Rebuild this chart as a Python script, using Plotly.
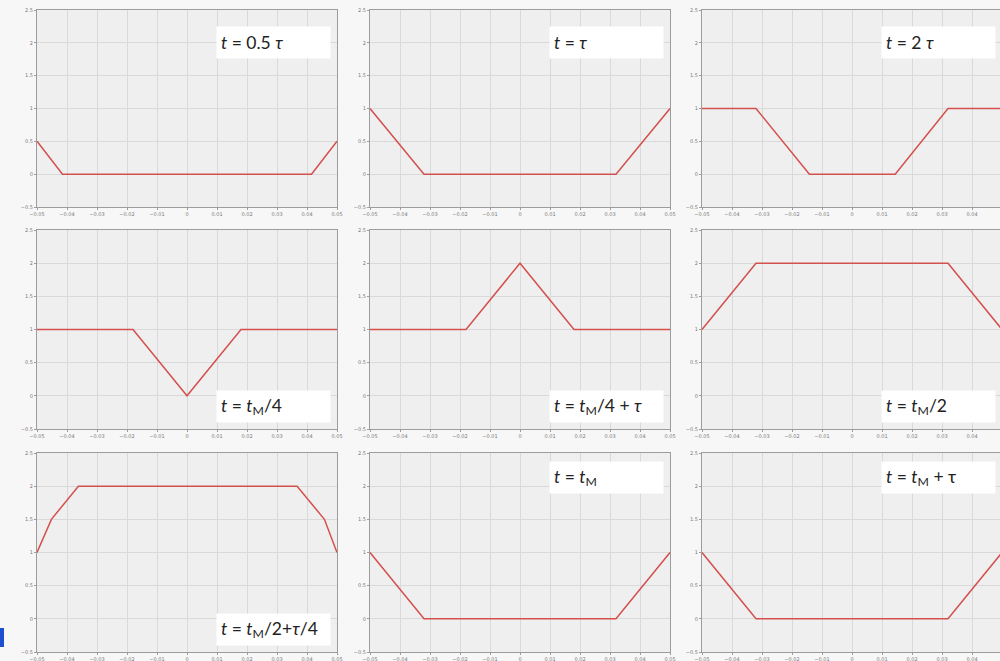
import plotly.graph_objects as go

# ---- data ----
x_p1 = [-0.05, -0.0415, 0.0415, 0.05]
y_p1 = [0.5, 0, 0, 0.5]
x_p2 = [-0.05, -0.032, 0.032, 0.05]
y_p2 = [1, 0, 0, 1]
x_p3 = [-0.05, -0.032, -0.0142, 0.0144, 0.032, 0.05]
y_p3 = [1, 1, 0, 0, 1, 1]
x_p4 = [-0.05, -0.018, 0.0, 0.018, 0.05]
y_p4 = [1, 1, 0, 1, 1]
x_p5 = [-0.05, -0.018, 0.0, 0.018, 0.05]
y_p5 = [1, 1, 2, 1, 1]
x_p6 = [-0.05, -0.032, 0.032, 0.05]
y_p6 = [1, 2, 2, 1]
x_p7 = [-0.05, -0.0452, -0.0362, 0.0367, 0.0458, 0.05]
y_p7 = [1, 1.5, 2, 2, 1.5, 1]
x_p8 = [-0.05, -0.032, 0.032, 0.05]
y_p8 = [1, 0, 0, 1]
x_p9 = [-0.05, -0.032, 0.032, 0.05]
y_p9 = [1, 0, 0, 1]

labels = [
    "<i>t</i> = 0.5 <i>τ</i>",
    "<i>t</i> = <i>τ</i>",
    "<i>t</i> = 2 <i>τ</i>",
    "<i>t</i> = <i>t</i><sub>M</sub>/4",
    "<i>t</i> = <i>t</i><sub>M</sub>/4 + <i>τ</i>",
    "<i>t</i> = <i>t</i><sub>M</sub>/2",
    "<i>t</i> = <i>t</i><sub>M</sub>/2+<i>τ</i>/4",
    "<i>t</i> = <i>t</i><sub>M</sub>",
    "<i>t</i> = <i>t</i><sub>M</sub> + τ",
]
# label box placement: top or bottom of panel
label_pos = ["top", "top", "top", "bottom", "bottom", "bottom", "bottom", "top", "top"]

x_ticks = [-0.05, -0.04, -0.03, -0.02, -0.01, 0, 0.01, 0.02, 0.03, 0.04, 0.05]
x_ticklabels = ["−0.05", "−0.04", "−0.03", "−0.02", "−0.01", "0", "0.01", "0.02", "0.03", "0.04", "0.05"]
y_ticks = [-0.5, 0, 0.5, 1, 1.5, 2, 2.5]
y_ticklabels = ["−0.5", "0", "0.5", "1", "1.5", "2", "2.5"]

series = [(x_p1, y_p1), (x_p2, y_p2), (x_p3, y_p3),
          (x_p4, y_p4), (x_p5, y_p5), (x_p6, y_p6),
          (x_p7, y_p7), (x_p8, y_p8), (x_p9, y_p9)]

# ---- layout geometry (pixels) ----
W, H = 1000, 661
col_px = [(37, 337), (370, 670), (702, 1002)]
row_px = [(10, 207), (230, 429), (453, 652)]
top_offset = [16, 16, 8]

fig = go.Figure()
LINE = "#d3504c"
AX = "#9c9c9c"
GRID = "#d9d9d9"

for i, (xs, ys) in enumerate(series):
    r, c = divmod(i, 3)
    n = "" if i == 0 else str(i + 1)
    fig.add_trace(go.Scatter(x=xs, y=ys, mode="lines",
                             line=dict(color=LINE, width=1.5),
                             xaxis="x" + n, yaxis="y" + n, showlegend=False,
                             hoverinfo="skip"))
    x0, x1 = col_px[c]
    y0, y1 = row_px[r]
    xr = [-0.05, 0.05]
    if x1 > W:
        # panel runs past the right edge of the picture
        frac = (W - x0) / (x1 - x0)
        xr = [-0.05, -0.05 + 0.1 * frac]
        x1 = W
    common = dict(showline=True, linecolor=AX, linewidth=1, mirror=True,
                  showgrid=True, gridcolor=GRID, gridwidth=1, zeroline=False,
                  ticks="outside", ticklen=2, tickcolor=AX, automargin=False,
                  tickfont=dict(size=5, color="#777777", family="DejaVu Sans"))
    fig.layout["xaxis" + n] = dict(domain=[x0 / W, x1 / W], range=xr,
                                   anchor="y" + n, tickvals=x_ticks,
                                   ticktext=x_ticklabels, **common)
    fig.layout["yaxis" + n] = dict(domain=[1 - y1 / H, 1 - y0 / H], range=[-0.5, 2.5],
                                   anchor="x" + n, tickvals=y_ticks,
                                   ticktext=y_ticklabels, **common)

    # label box
    bx = col_px[c][0] + 179
    if label_pos[i] == "top":
        by = y0 + top_offset[r]
    else:
        by = y1 - 39
    fig.add_annotation(xref="paper", yref="paper",
                       x=bx / W, y=1 - by / H, xanchor="left", yanchor="top",
                       text=labels[i], showarrow=False, align="left",
                       width=105, height=23, borderpad=4,
                       bgcolor="white", valign="middle",
                       font=dict(family="Lato", size=17.5, color="#222222"))

# small blue mark at lower-left edge
fig.add_shape(type="rect", xref="paper", yref="paper",
              x0=0, x1=4 / W, y0=1 - 647 / H, y1=1 - 628 / H,
              fillcolor="#1f4fd1", line=dict(width=0))

fig.update_layout(width=W, height=H, margin=dict(l=0, r=0, t=0, b=0),
                  paper_bgcolor="#f7f7f7", plot_bgcolor="#efefef")

fig.write_html("out.html")
